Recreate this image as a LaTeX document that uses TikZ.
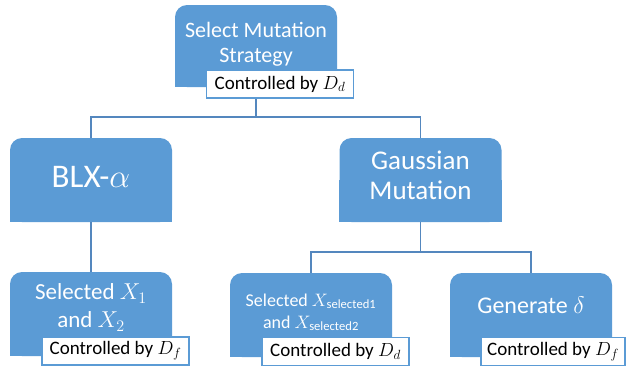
\RequirePackage{fix-cm}
\documentclass[tikz,border=0pt]{standalone}
\usepackage{fontspec}
\setmainfont{Carlito}
\usetikzlibrary{backgrounds}

\definecolor{boxblue}{RGB}{91,155,213}
\definecolor{lineblue}{RGB}{84,135,190}

\tikzset{
    stratbox/.style={fill=boxblue, rounded corners=12pt, text=white, align=center,
        minimum width=162pt, minimum height=84pt, inner sep=2pt},
    ctrlbox/.style={draw=boxblue, line width=1.2pt, fill=white, text=black,
        minimum width=147pt, minimum height=28pt, inner sep=1pt,
        font=\fontsize{19}{22}\selectfont},
    link/.style={draw=lineblue, line width=1.5pt}
}

\begin{document}
\begin{tikzpicture}[x=1pt, y=-1pt]
    \useasboundingbox (0,0) rectangle (626,370);

    % Top level
    \node[stratbox, minimum height=82pt, font=\fontsize{22}{25}\selectfont] (sel) at (256,46) {Select Mutation\\Strategy\\[-17pt]};

    % Second level
    \node[stratbox, font=\fontsize{33}{36}\selectfont] (blx) at (91,180) {BLX-$\alpha$\\[-30pt]};
    \node[stratbox, font=\fontsize{27}{30}\selectfont] (gau) at (420.5,180) {Gaussian\\Mutation\\[-20pt]};

    % Third level
    \node[stratbox, font=\fontsize{23}{28}\selectfont] (selx) at (91,314) {Selected $X_1$\\and $X_2$\\[-12pt]};
    \node[stratbox, font=\fontsize{18}{22}\selectfont] (seld) at (311,315) {Selected $X_{\mathrm{selected1}}$\\and $X_{\mathrm{selected2}}$\\[-14pt]};
    \node[stratbox, font=\fontsize{24}{28}\selectfont] (gen) at (531,315) {Generate $\delta$\\[-8pt]};

    % square off the bottom corners
    \begin{scope}[on background layer]
        \foreach \n in {sel,blx,gau,selx,seld,gen}
            \fill[boxblue] (\n.west) rectangle (\n.south east);
    \end{scope}

    % Connections
    \coordinate (split1) at (256,117);
    \coordinate (split2) at (420.5,252);
    \draw[link] (sel.south) -- (split1) -| (blx.north);
    \draw[link] (split1) -| (gau.north);
    \draw[link] (blx.south) -- (selx.north);
    \draw[link] (gau.south) -- (split2) -| (seld.north);
    \draw[link] (split2) -| (gen.north);

    % Control labels
    \node[ctrlbox] (ctrlsel) at (280,84) {Controlled by $D_d$};
    \node[ctrlbox] (ctrlselx) at (115.5,351) {Controlled by $D_f$};
    \node[ctrlbox] (ctrlseld) at (335.5,351.5) {Controlled by $D_d$};
    \node[ctrlbox, minimum width=144pt] (ctrlgen) at (553,351.5) {Controlled by $D_f$};
\end{tikzpicture}
\end{document}
